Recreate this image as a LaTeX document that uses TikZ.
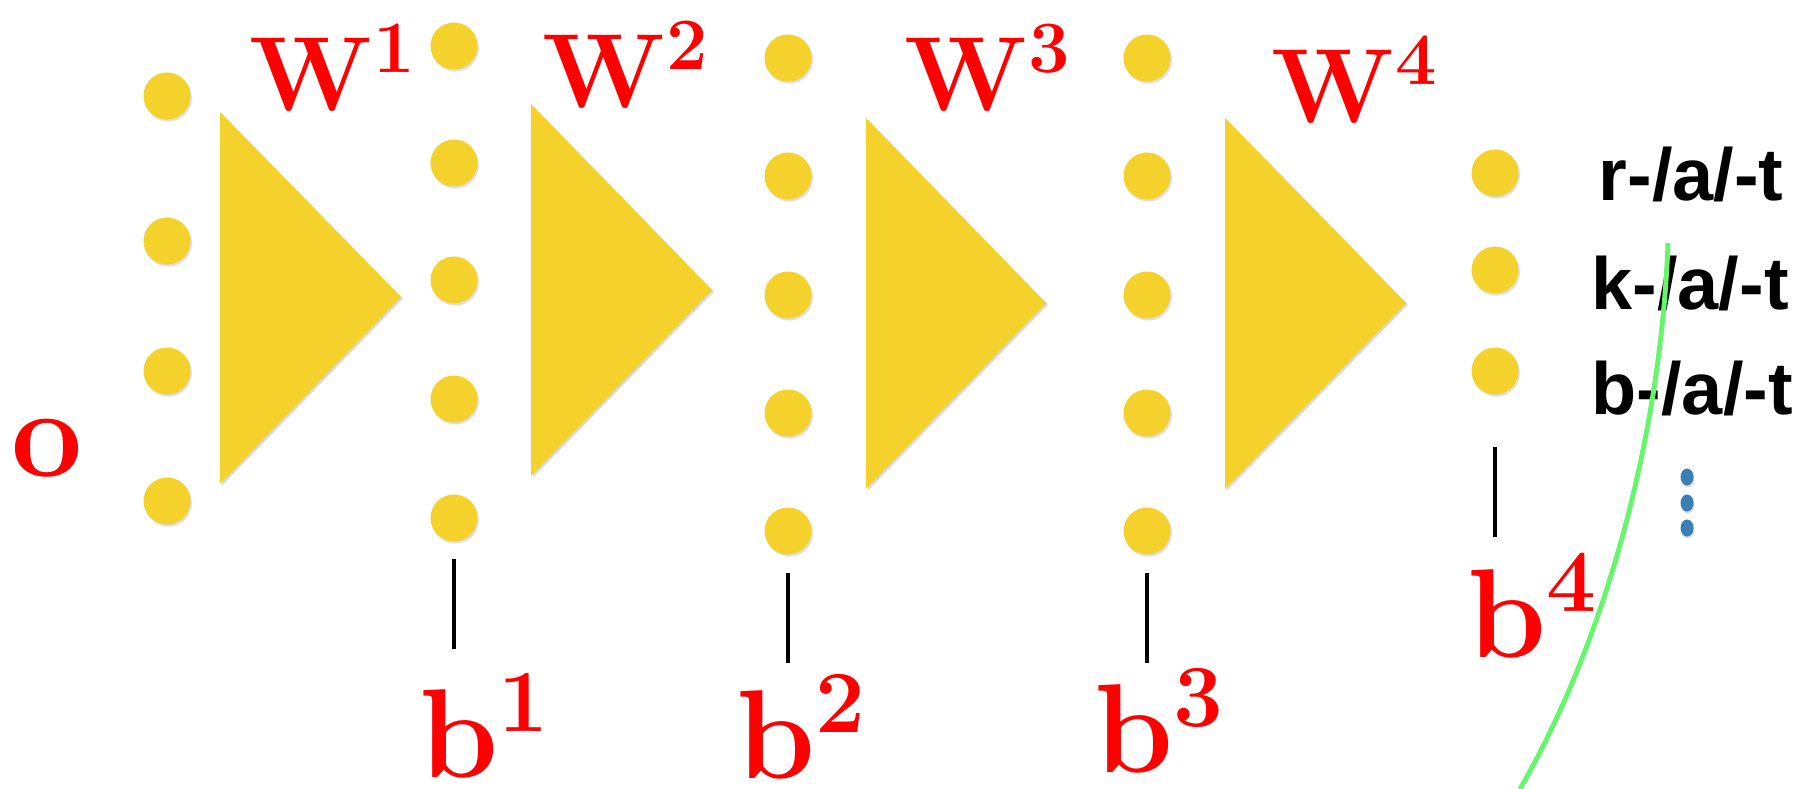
\RequirePackage{fix-cm}
\documentclass[tikz,border=0pt]{standalone}
\usepackage{amsmath, amssymb}
\usepackage[no-math]{fontspec}
\newfontfamily\outfont{Liberation Sans}
\usepackage{tikz}
\usetikzlibrary{shapes.geometric, shadows}

\definecolor{unityellow}{RGB}{244,210,43}
\definecolor{labred}{RGB}{255,0,0}
\definecolor{dotblue}{RGB}{59,127,180}
\definecolor{cutgreen}{RGB}{102,245,108}

\begin{document}
\begin{tikzpicture}[x=0.01cm, y=-0.01cm,
  neuron/.style={circle,minimum size=0.47cm,inner sep=0pt,fill=unityellow,
    drop shadow={shadow xshift=0.4pt,shadow yshift=-0.6pt,opacity=0.25}},
  wblock/.style={fill=unityellow,
    drop shadow={shadow xshift=0.5pt,shadow yshift=-0.5pt,opacity=0.3}},
  redlab/.style={text=labred,inner sep=0pt,anchor=base west},
  wlab/.style={redlab,font=\fontsize{30}{36}\selectfont\boldmath},
  blab/.style={redlab,font=\fontsize{36}{42}\selectfont\boldmath},
  outlab/.style={inner sep=0pt,anchor=base west,
    font=\outfont\bfseries\fontsize{21}{25}\selectfont},
  biasbar/.style={line width=1.4pt},
  vdot/.style={ellipse,minimum width=0.13cm,minimum height=0.17cm,
    inner sep=0pt,fill=dotblue,
    drop shadow={shadow xshift=0.2pt,shadow yshift=-0.5pt,opacity=0.3}},
  cutline/.style={draw=cutgreen,line width=1.4pt}]
  \useasboundingbox (0,0) rectangle (1795,789);
  % weight blocks
  \fill[wblock] (220,112) -- (401,297) -- (220,484) -- cycle;
  \fill[wblock] (531,104) -- (712,290) -- (531,476) -- cycle;
  \fill[wblock] (866,118) -- (1046,303) -- (866,489) -- cycle;
  \fill[wblock] (1225,118) -- (1406,303) -- (1225,489) -- cycle;
  % units
  \node[neuron] (x1) at (167,96) {};  \node[neuron] (x2) at (167,241) {};
  \node[neuron] (x3) at (167,371) {}; \node[neuron] (x4) at (167,501) {};
  \node[neuron] (h1-1) at (454,46) {};  \node[neuron] (h1-2) at (454,163) {};
  \node[neuron] (h1-3) at (454,280) {}; \node[neuron] (h1-4) at (454,399) {};
  \node[neuron] (h1-5) at (454,518) {};
  \node[neuron] (h2-1) at (788,58) {};  \node[neuron] (h2-2) at (788,176) {};
  \node[neuron] (h2-3) at (788,295) {}; \node[neuron] (h2-4) at (788,413) {};
  \node[neuron] (h2-5) at (788,531) {};
  \node[neuron] (h3-1) at (1147,58) {};  \node[neuron] (h3-2) at (1147,176) {};
  \node[neuron] (h3-3) at (1147,295) {}; \node[neuron] (h3-4) at (1147,413) {};
  \node[neuron] (h3-5) at (1147,531) {};
  \node[neuron] (y1) at (1495,173) {}; \node[neuron] (y2) at (1495,270) {};
  \node[neuron] (y3) at (1495,371) {};
  % labels
  \node[blab] (o) at (11,477) {$\mathbf{o}$};
  \node[wlab] (W1) at (249,111) {$\mathbf{W}^{\textbf{1}}$};
  \node[wlab] (W2) at (542,108) {$\mathbf{W}^{\textbf{2}}$};
  \node[wlab] (W3) at (904,111) {$\mathbf{W}^{\textbf{3}}$};
  \node[wlab] (W4) at (1271,123) {$\mathbf{W}^{\textbf{4}}$};
  \node[blab] (b1) at (419,777) {$\mathbf{b}^{\textbf{1}}$};
  \node[blab] (b2) at (736,778) {$\mathbf{b}^{\textbf{2}}$};
  \node[blab] (b3) at (1094,772) {$\mathbf{b}^{\textbf{3}}$};
  \node[blab] (b4) at (1467,657) {$\mathbf{b}^{\textbf{4}}$};
  \node[outlab] (l1) at (1598,201) {r-/a/-t};
  \node[outlab] (l2) at (1591,310) {k-/a/-t};
  \node[outlab] (l3) at (1591,415) {b-/a/-t};
  \node[vdot] (v1) at (1687,477) {}; \node[vdot] (v2) at (1687,503) {};
  \node[vdot] (v3) at (1687,528) {};
  % bias bars
  \draw[biasbar] (h1-5.center) ++(0,41) -- ++(0,90);
  \draw[biasbar] (h2-5.center) ++(0,42) -- ++(0,90);
  \draw[biasbar] (h3-5.center) ++(0,42) -- ++(0,90);
  \draw[biasbar] (y3.center) ++(0,76) -- ++(0,90);
  \draw[cutline] (1668,243) .. controls (1660,450) and (1600,650) .. (1520,789);
\end{tikzpicture}
\end{document}
